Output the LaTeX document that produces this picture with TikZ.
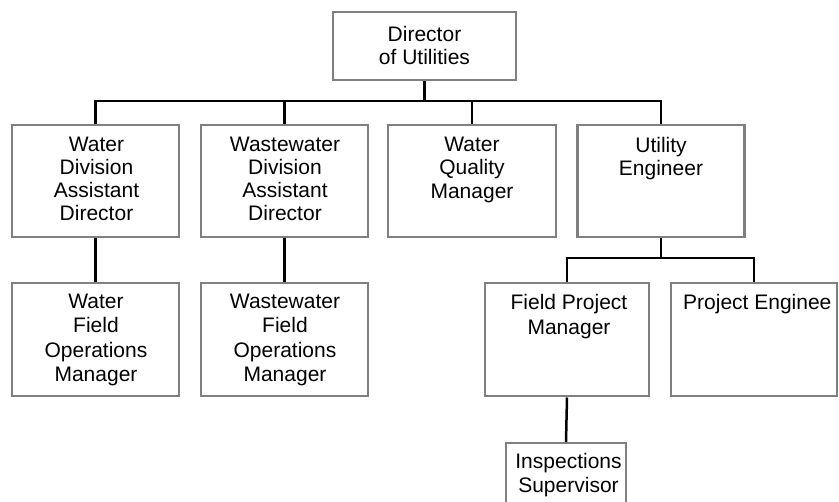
\documentclass[tikz,border=0pt]{standalone}
\usepackage{fontspec}
\setmainfont{Liberation Sans}
\begin{document}
\begin{tikzpicture}[x=1pt,y=-1pt,
  box/.style={draw=boxgray,line width=2.5pt,rectangle,inner sep=0pt,anchor=north},
  lbl/.style={inner sep=0pt,anchor=north,align=center,font=\fontsize{21}{#1}\selectfont},
  lbl/.default=23,
  link/.style={draw=black,line width=2.5pt}]
\definecolor{boxgray}{RGB}{128,128,128}
\clip (0,0) rectangle (839,502);
\fill[white] (0,0) rectangle (839,502);
% boxes
\node[box,minimum width=183pt,minimum height=68pt] (dir) at (424.5,11) {};
\node[box,minimum width=167pt,minimum height=112pt] (wda) at (95.5,124) {};
\node[box,minimum width=167pt,minimum height=112pt] (wwda) at (284.5,124) {};
\node[box,minimum width=168pt,minimum height=112pt] (wqm) at (472,124) {};
\node[box,minimum width=167pt,minimum height=112pt] (ue) at (661,124) {};
\node[box,minimum width=167pt,minimum height=113pt] (wfom) at (95.5,282) {};
\node[box,minimum width=167pt,minimum height=113pt] (wwfom) at (284.5,282) {};
\node[box,minimum width=164pt,minimum height=113pt] (fpm) at (567,282) {};
\node[box,minimum width=166pt,minimum height=113pt] (pe) at (754,282) {};
\node[box,minimum width=120pt,minimum height=100pt] (insp) at (566,442) {};
% texts
\node[lbl] (tdir) at (424.5,26) {Director\\of Utilities};
\node[lbl] (twda) at (96.5,137) {Water\\Division\\Assistant\\Director};
\node[lbl] (twwda) at (285,137) {Wastewater\\Division\\Assistant\\Director};
\node[lbl=23.3] (twqm) at (472,137) {Water\\Quality\\Manager};
\node[lbl=23.3] (tue) at (661,137) {Utility\\Engineer};
\node[lbl=24.2] (twfom) at (96,294) {Water\\Field\\Operations\\Manager};
\node[lbl=24.2] (twwfom) at (285,294) {Wastewater\\Field\\Operations\\Manager};
\node[lbl=25] (tfpm) at (569,294) {Field Project\\Manager};
\node[inner sep=0pt,anchor=north west,font=\fontsize{21}{23}\selectfont] (tpe) at (683,294) {Project Enginee};
\node[lbl=24] (tinsp) at (568.5,452.7) {Inspections\\Supervisor};
% connectors
\coordinate (bus) at (0,101);
\coordinate (sub) at (0,258);
\draw[link] (dir.south) -- (dir.south |- bus);
\draw[link] (wda.north) -- (wda.north |- bus) -- (ue.north |- bus) -- (ue.north);
\draw[link] (wwda.north) -- (wwda.north |- bus);
\draw[link] (wqm.north) -- (wqm.north |- bus);
\draw[link] (wda.south) -- (wfom.north);
\draw[link] (wwda.south) -- (wwfom.north);
\draw[link] (ue.south) -- (ue.south |- sub);
\draw[link] (fpm.north) -- (fpm.north |- sub) -- (pe.north |- sub) -- (pe.north);
\draw[link] (fpm.south) -- (insp.north);
\end{tikzpicture}
\end{document}
